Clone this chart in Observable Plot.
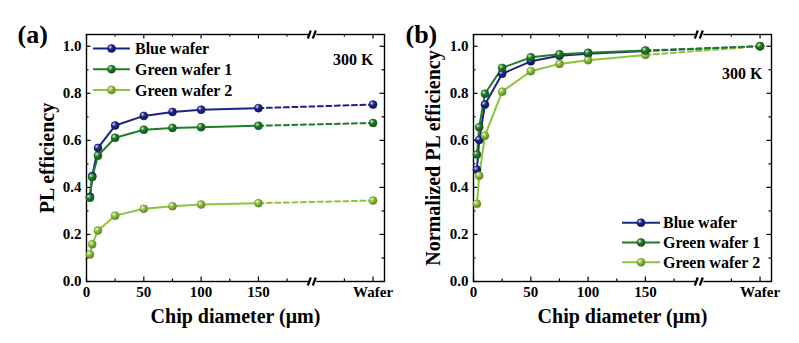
<!DOCTYPE html>
<html><head><meta charset="utf-8">
<script src="https://cdn.jsdelivr.net/npm/d3@7"></script>
<script src="https://cdn.jsdelivr.net/npm/@observablehq/plot@0.6"></script>
<style>
body{margin:0;background:#fff}
#wrap{position:relative;width:799px;height:343px;display:flex;overflow:hidden}
</style>
</head><body>
<svg id="defs" width="0" height="0" style="position:absolute"><defs id="gdefs"></defs></svg>
<div id="wrap"></div>
<script>
// ---- data ----
const chipSizes = [3, 5, 10, 25, 50, 75, 100, 150];
const waferPos = 250;          // position of the "Wafer" category on the broken axis
const breakPos = 197;          // axis break
const seriesNames = ["Blue wafer", "Green wafer 1", "Green wafer 2"];
const seriesColors = ["#1c2387", "#1f7d27", "#8cc43c"];

const plBlue   = [0.360, 0.448, 0.568, 0.663, 0.704, 0.721, 0.730, 0.737];
const plGreen1 = [0.356, 0.444, 0.535, 0.611, 0.645, 0.653, 0.656, 0.662];
const plGreen2 = [0.115, 0.158, 0.217, 0.280, 0.309, 0.320, 0.327, 0.333];
const plWafer  = [0.752, 0.674, 0.344];

const normBlue   = [0.475, 0.602, 0.752, 0.883, 0.936, 0.960, 0.968, 0.980];
const normGreen1 = [0.540, 0.656, 0.798, 0.908, 0.953, 0.966, 0.972, 0.982];
const normGreen2 = [0.330, 0.450, 0.620, 0.807, 0.894, 0.925, 0.941, 0.963];
const normWafer  = [1.0, 1.0, 1.0];

const xMajor = [0, 50, 100, 150, 250];
const xMinor = [25, 75, 125, 175, 225];
const yMajor = [0, 0.2, 0.4, 0.6, 0.8, 1.0];
const yMinor = [0.1, 0.3, 0.5, 0.7, 0.9];
const xLabel = "Chip diameter (\u03bcm)";
const tempLabel = "300 K";

// ---- ball gradients ----
const defs = d3.select("#gdefs");
seriesColors.forEach((c, i) => {
  const g = defs.append("radialGradient").attr("id", "ball" + i)
    .attr("cx", "38%").attr("cy", "36%").attr("r", "65%").attr("fx", "32%").attr("fy", "30%");
  g.append("stop").attr("offset", "0%").attr("stop-color", d3.interpolateRgb(c, "#fff")(0.85));
  g.append("stop").attr("offset", "45%").attr("stop-color", c);
  g.append("stop").attr("offset", "100%").attr("stop-color", d3.color(c).darker(1.2).formatHex());
});

// axis-break symbols: a white gap in the frame, and two slanted bars
const gapSymbol = {draw(ctx) { ctx.moveTo(-4, -3); ctx.lineTo(4, -3); ctx.lineTo(4, 3); ctx.lineTo(-4, 3); ctx.closePath(); }};
const slashSymbol = {draw(ctx) { ctx.moveTo(-4.5, 4); ctx.lineTo(-1.5, -4); ctx.moveTo(0.5, 4); ctx.lineTo(3.5, -4); }};

const FONT = "'Liberation Serif','Times New Roman',serif";

function panel({width, ml, mr, values, wafer, yLabel, letter, letterDx, tempDx, tempDy, titleDx, legend}) {
  const H = 343, mt = 34, mb = 62;
  const PW = width - ml - mr, PH = H - mt - mb;
  const order = [0, 2, 1];
  const marks = [
    Plot.frame({stroke: "#000", strokeWidth: 1.4}),
    // inward ticks on all four sides
    Plot.tickX(xMajor, {x: d => d, insetTop: PH - 4.5, strokeWidth: 1.2}),
    Plot.tickX(xMinor, {x: d => d, insetTop: PH - 2.5, strokeWidth: 1.2}),
    Plot.tickX(xMajor, {x: d => d, insetBottom: PH - 4.5, strokeWidth: 1.2}),
    Plot.tickX(xMinor, {x: d => d, insetBottom: PH - 2.5, strokeWidth: 1.2}),
    Plot.tickY(yMajor, {y: d => d, insetRight: PW - 4.5, strokeWidth: 1.2}),
    Plot.tickY(yMinor, {y: d => d, insetRight: PW - 2.5, strokeWidth: 1.2}),
    Plot.tickY(yMajor, {y: d => d, insetLeft: PW - 4.5, strokeWidth: 1.2}),
    Plot.tickY(yMinor, {y: d => d, insetLeft: PW - 2.5, strokeWidth: 1.2}),
    Plot.axisY({ticks: yMajor, tickSize: 0, tickPadding: 5, tickFormat: d3.format(".1f"), fontSize: 15, fontWeight: "bold", label: null}),
    Plot.axisX({ticks: xMajor, tickSize: 0, tickPadding: 5, tickFormat: d => d === waferPos ? "Wafer" : String(d), fontSize: 15, fontWeight: "bold", label: null}),
    Plot.text([xLabel], {frameAnchor: "bottom", dy: 41, text: d => d, fontSize: 20, fontWeight: "bold"}),
    Plot.text([yLabel], {frameAnchor: "left", dx: titleDx, rotate: -90, textAnchor: "middle", text: d => d, fontSize: 20, fontWeight: "bold"}),
    Plot.text([letter], {frameAnchor: "top-left", dx: letterDx, dy: -10, textAnchor: "start", text: d => d, fontSize: 26, fontWeight: "bold"}),
    Plot.text([tempLabel], {frameAnchor: "top-right", dx: tempDx, dy: tempDy, textAnchor: "end", text: d => d, fontSize: 16, fontWeight: "bold"}),
  ];
  for (const i of order) {
    const pts = chipSizes.map((x, k) => ({x, y: values[i][k]}));
    const dash = [{x: chipSizes[chipSizes.length - 1], y: values[i][values[i].length - 1]}, {x: waferPos, y: wafer[i]}];
    marks.push(Plot.line(dash, {x: "x", y: "y", stroke: seriesColors[i], strokeWidth: 2, strokeDasharray: "5,3.5"}));
    marks.push(Plot.line(pts, {x: "x", y: "y", stroke: seriesColors[i], strokeWidth: 2}));
  }
  for (const i of order) {
    const all = chipSizes.map((x, k) => ({x, y: values[i][k]})).concat([{x: waferPos, y: wafer[i]}]);
    marks.push(Plot.dot(all, {x: "x", y: "y", r: 4, fill: `url(#ball${i})`, stroke: d3.color(seriesColors[i]).darker(0.8).formatHex(), strokeWidth: 0.6}));
  }
  // axis break marks on bottom and top edges of the frame
  for (const fa of ["bottom", "top"]) {
    marks.push(Plot.dot([breakPos], {x: d => d, frameAnchor: fa, symbol: gapSymbol, fill: "#fff", stroke: "none", r: 4}));
    marks.push(Plot.dot([breakPos], {x: d => d, frameAnchor: fa, symbol: slashSymbol, fill: "none", stroke: "#000", strokeWidth: 2.2, r: 4}));
  }

  const svg = Plot.plot({
    width, height: H, marginLeft: ml, marginRight: mr, marginTop: mt, marginBottom: mb,
    x: {domain: [0, 260]},
    y: {domain: [0, 1.05]},
    style: {fontFamily: FONT, fontWeight: "bold", background: "#fff", color: "#000", overflow: "visible"},
    marks
  });
  // legend
  const g = d3.select(svg).append("g").attr("font-family", FONT).attr("font-weight", "bold")
    .attr("font-size", 16).attr("text-anchor", "start");
  seriesNames.forEach((name, i) => {
    const y = legend.y0 + i * legend.dy;
    g.append("line").attr("x1", legend.x0).attr("x2", legend.x1).attr("y1", y).attr("y2", y)
      .attr("stroke", seriesColors[i]).attr("stroke-width", 2);
    g.append("circle").attr("cx", (legend.x0 + legend.x1) / 2).attr("cy", y).attr("r", 4)
      .attr("fill", `url(#ball${i})`).attr("stroke", d3.color(seriesColors[i]).darker(0.8).formatHex()).attr("stroke-width", 0.6);
    g.append("text").attr("x", legend.tx).attr("y", y).attr("dy", "0.35em").attr("fill", "#000")
      .attr("text-anchor", "start").text(name);
  });
  return svg;
}

const wrap = document.getElementById("wrap");
wrap.appendChild(panel({
  width: 400, ml: 86, mr: 16,
  values: [plBlue, plGreen1, plGreen2], wafer: plWafer,
  yLabel: "PL efficiency", letter: "(a)", letterDx: -69, tempDx: -11, tempDy: 19, titleDx: -39,
  legend: {x0: 93, x1: 130, tx: 135, y0: 48.5, dy: 20.7}
}));
wrap.appendChild(panel({
  width: 399, ml: 73, mr: 28,
  values: [normBlue, normGreen1, normGreen2], wafer: normWafer,
  yLabel: "Normalized PL efficiency", letter: "(b)", letterDx: -68, tempDx: -9, tempDy: 33, titleDx: -40,
  legend: {x0: 222, x1: 260, tx: 263, y0: 222.7, dy: 19.8}
}));
</script>
</body></html>
